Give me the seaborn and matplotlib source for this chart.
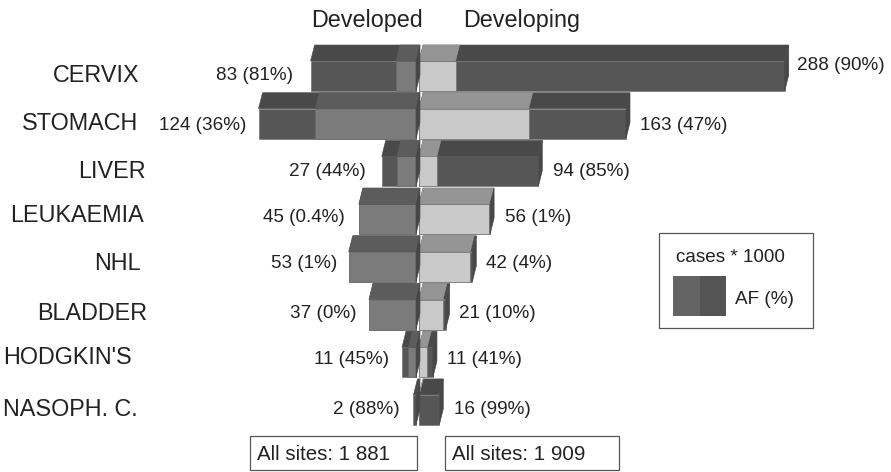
import matplotlib
matplotlib.use("Agg")
import matplotlib.pyplot as plt
import matplotlib.transforms as mtransforms
from matplotlib.patches import Polygon, Rectangle
from matplotlib.colors import to_rgb
import pandas as pd
import seaborn as sns

sites = ["CERVIX", "STOMACH", "LIVER", "LEUKAEMIA", "NHL", "BLADDER", "HODGKIN'S", "NASOPH. C."]
developed_cases = [83, 124, 27, 45, 53, 37, 11, 2]
developed_af = [81, 36, 44, 0.4, 1, 0, 45, 88]
developing_cases = [288, 163, 94, 56, 42, 21, 11, 16]
developing_af = [90, 47, 85, 1, 4, 10, 41, 99]
headers = ["Developed", "Developing"]
totals = ["All sites: 1 881", "All sites: 1 909"]

# pixel layout of the text, measured on the reference
site_x = [53, 22, 78, 10, 94, 37, 3, 3]
site_y = [76, 124, 171, 216, 263, 313, 358, 409]
dev_label_right = [293, 246, 366, 345, 337, 356, 389, 400]
dev_label_y = [76, 125, 172, 218, 263, 314, 360, 409]
devg_label_left = [797, 640, 553, 505, 486, 459, 447, 454]
devg_label_y = [66, 125, 172, 217, 263, 314, 360, 409]

W, H = 891, 472
PX_PER_CASE = 1.27
ZERO_PX = 416
ROW_PX = 47.7
FIRST_ROW_PX = 76
GAP = 3 / PX_PER_CASE
DEPTH_X = 4 / PX_PER_CASE
DEPTH_Y = 16 / ROW_PX

DARK = "#565656"
DEV_LIGHT = "#7b7b7b"
DEVG_LIGHT = "#c9c9c9"
EDGE = "#6a6a6a"
TEXT = "#222222"


def shade(color, factor):
    return tuple(c * factor for c in to_rgb(color))


def add_faces(ax, bars, factor, side):
    # top (and optionally end) faces worked out from the bars seaborn drew
    for bar in bars:
        x0 = min(bar.get_x(), bar.get_x() + bar.get_width())
        x1 = max(bar.get_x(), bar.get_x() + bar.get_width())
        y0 = bar.get_y()
        y1 = y0 + bar.get_height()
        face = bar.get_facecolor()
        top = [(x0, y0), (x1, y0), (x1 + DEPTH_X, y0 - DEPTH_Y), (x0 + DEPTH_X, y0 - DEPTH_Y)]
        ax.add_patch(Polygon(top, facecolor=shade(face, factor), edgecolor=shade(face, factor), lw=0.4, zorder=3))
        if side:
            end = [(x1, y0), (x1 + DEPTH_X, y0 - DEPTH_Y), (x1 + DEPTH_X, y1 - DEPTH_Y), (x1, y1)]
            ax.add_patch(Polygon(end, facecolor="#474747", edgecolor="#474747", lw=0.4, zorder=4))


def main():
    sns.set_style("white")
    plt.rcParams["font.family"] = ["Liberation Sans", "DejaVu Sans"]

    df = pd.DataFrame({
        "site": sites,
        "dev_total": [-v for v in developed_cases],
        "dev_rest": [-v * (100 - a) / 100 for v, a in zip(developed_cases, developed_af)],
        "devg_total": developing_cases,
        "devg_rest": [v * (100 - a) / 100 for v, a in zip(developing_cases, developing_af)],
    })

    fig = plt.figure(figsize=(W / 100, H / 100), dpi=100)
    ax = fig.add_axes([0, 0, 1, 1])

    groups = {}
    for col, color in [("dev_total", DARK), ("dev_rest", DEV_LIGHT),
                       ("devg_total", DARK), ("devg_rest", DEVG_LIGHT)]:
        n = len(ax.patches)
        sns.barplot(data=df, y="site", x=col, color=color, saturation=1, width=30 / ROW_PX,
                    edgecolor=EDGE, linewidth=0.4, ax=ax)
        groups[col] = list(ax.patches)[n:]

    for bar in groups["devg_total"] + groups["devg_rest"]:
        bar.set_x(bar.get_x() + GAP)

    add_faces(ax, groups["dev_total"], 0.85, True)
    add_faces(ax, groups["dev_rest"], 0.75, False)
    add_faces(ax, groups["devg_total"], 0.85, True)
    add_faces(ax, groups["devg_rest"], 0.74, False)

    ax.set_xlim(-ZERO_PX / PX_PER_CASE, (W - ZERO_PX) / PX_PER_CASE)
    ax.set_ylim((H - FIRST_ROW_PX) / ROW_PX, -FIRST_ROW_PX / ROW_PX)
    ax.axis("off")

    # everything that is not a bar sits on pixel coordinates, y going down
    px = mtransforms.Affine2D().scale(1 / W, -1 / H).translate(0, 1) + fig.transFigure

    for name, x, y in zip(sites, site_x, site_y):
        ax.text(x, y, name, transform=px, fontsize=16.8, color=TEXT, va="center", ha="left")

    for i in range(len(sites)):
        ax.text(dev_label_right[i], dev_label_y[i], f"{developed_cases[i]} ({developed_af[i]}%)",
                transform=px, fontsize=13.6, color=TEXT, va="center", ha="right")
        ax.text(devg_label_left[i], devg_label_y[i], f"{developing_cases[i]} ({developing_af[i]}%)",
                transform=px, fontsize=13.6, color=TEXT, va="center", ha="left")

    ax.text(311, 21, headers[0], transform=px, fontsize=16.8, color=TEXT, va="center")
    ax.text(463, 21, headers[1], transform=px, fontsize=16.8, color=TEXT, va="center")

    # legend box
    ax.add_patch(Rectangle((659, 233), 154, 95, transform=px, facecolor="white", edgecolor="#555555", lw=0.9))
    ax.add_patch(Rectangle((673, 276), 27, 40, transform=px, facecolor="#646464", edgecolor="none"))
    ax.add_patch(Rectangle((700, 276), 26, 40, transform=px, facecolor="#545454", edgecolor="none"))
    ax.text(676, 257, "cases * 1000", transform=px, fontsize=13.6, color=TEXT, va="center")
    ax.text(735, 299, "AF (%)", transform=px, fontsize=13.6, color=TEXT, va="center")

    # totals under the bars
    for left, right, label in zip([250, 445], [417, 619], totals):
        ax.add_patch(Rectangle((left, 436), right - left, 34, transform=px, facecolor="white",
                               edgecolor="#555555", lw=0.9))
        ax.text(left + 7, 454, label, transform=px, fontsize=14.8, color=TEXT, va="center")

    fig.savefig("out.png", dpi=100, facecolor="white")


if __name__ == "__main__":
    main()
